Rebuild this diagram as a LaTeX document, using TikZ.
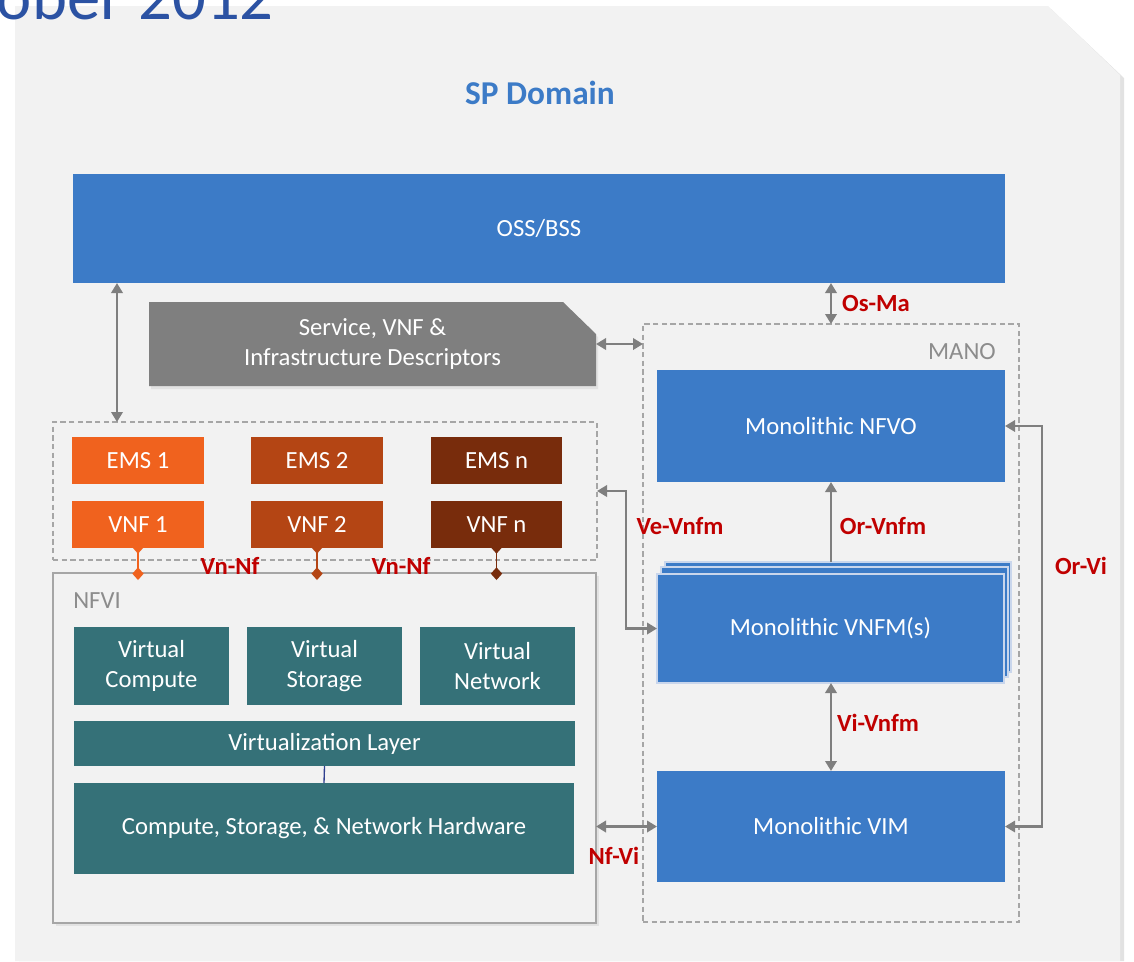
\documentclass[tikz,border=0pt]{standalone}
\usepackage{fontspec}
\setmainfont{Carlito}
\usetikzlibrary{arrows.meta,calc}
\definecolor{bgc}{HTML}{F2F2F2}
\definecolor{shc}{HTML}{E2E2E2}
\definecolor{mblue}{HTML}{3C7BC7}
\definecolor{spblue}{HTML}{3C7BC7}
\definecolor{tblue}{HTML}{2B52A3}
\definecolor{dgray}{HTML}{7F7F7F}
\definecolor{lgray}{HTML}{A6A6A6}
\definecolor{lred}{HTML}{C00000}
\definecolor{teal}{HTML}{357178}
\definecolor{orA}{HTML}{F0621E}
\definecolor{orB}{HTML}{B44514}
\definecolor{orC}{HTML}{782C0C}
\definecolor{stackb}{HTML}{C9D6EC}
\definecolor{vline}{HTML}{2F3F8F}
\pgfdeclarelayer{canvas}
\pgfdeclarelayer{front}
\pgfsetlayers{canvas,main,front}
\newcommand\mybox[7]{\node[#6, minimum width={(#4-#2)*0.75pt}, minimum height={(#5-#3)*0.75pt}] (#1) at ({(#2+#4)/2},{(#3+#5)/2}) {#7};}
\tikzset{
  box/.style={inner sep=0pt, outer sep=0pt, text=white, align=center, font=\fontsize{18.5}{22.5}\selectfont},
  bluebox/.style={box, fill=mblue},
  tealbox/.style={box, fill=teal},
  stackbox/.style={box, fill=mblue, draw=stackb, line width=1.1pt},
  dashbox/.style={inner sep=0pt, outer sep=0pt, draw=lgray, line width=1.1pt, dash pattern=on 4pt off 2.5pt},
  solidbox/.style={inner sep=0pt, outer sep=0pt, draw=lgray, line width=1.5pt},
  plainbox/.style={box},
  lbl/.style={text=lred, font=\bfseries\fontsize{18.5}{20}\selectfont, inner sep=0pt},
  glbl/.style={text=dgray!90, font=\fontsize{18.5}{20}\selectfont, inner sep=0pt},
  gline/.style={draw=dgray, line width=2.2pt},
  dbl/.style={gline, arrows={Triangle[length=7.5pt,width=8.5pt]-Triangle[length=7.5pt,width=8.5pt]}},
  sgl/.style={gline, arrows={-Triangle[length=7.5pt,width=8.5pt]}},
  thin dbl/.style={draw=dgray, line width=1.6pt, arrows={Triangle[length=7.5pt,width=8.5pt]-Triangle[length=7.5pt,width=8.5pt]}},
  vnnf/.style={line width=1.4pt, arrows={Diamond[length=9.5pt,width=8.5pt]-Diamond[length=9.5pt,width=8.5pt]}},
}
\begin{document}
\begin{tikzpicture}[x=0.75pt, y=-0.75pt]
\useasboundingbox (0,0) rectangle (1134,961);
\begin{pgfonlayer}{canvas}
\fill[shc] (19,9) -- (1051,9) -- (1124,78) -- (1124,961) -- (19,961) -- cycle;
\fill[bgc] (15,6) -- (1048,6) -- (1120,75) -- (1120,961) -- (15,961) -- cycle;
\end{pgfonlayer}
% title
\node[anchor=base east, text=tblue, inner sep=0pt, font=\fontsize{50}{50}\selectfont] (title) at (274,19) {ober 2012};
\node[text=spblue, inner sep=0pt, font=\bfseries\fontsize{25}{25}\selectfont] (sp) at (540,93) {SP Domain};
% OSS/BSS
\mybox{oss}{73}{174}{1005}{283}{bluebox}{OSS/BSS}
% descriptors
\fill[shc] (151,305) -- (565,305) -- (598,337) -- (598,389) -- (151,389) -- cycle;
\fill[dgray] (149,302) -- (563,302) -- (596,334) -- (596,386) -- (149,386) -- cycle;
\mybox{desc}{149}{302}{596}{386}{plainbox}{Service, VNF \&\\Infrastructure Descriptors}
% MANO
\mybox{mano}{643}{324}{1019}{922}{dashbox}{}
\node[glbl, anchor=east] (manolbl) at (996,352) {MANO};
\mybox{nfvo}{657}{370}{1005}{482}{bluebox}{Monolithic NFVO}
\mybox{vnfmC}{665}{562}{1011}{672}{stackbox}{}
\mybox{vnfmB}{661}{567}{1008}{677}{stackbox}{}
\mybox{vnfm}{657}{574}{1004}{683}{stackbox}{Monolithic VNFM(s)}
\mybox{vim}{657}{771}{1005}{882}{bluebox}{Monolithic VIM}
% VNF area
\mybox{vnfbox}{53}{422}{597}{560}{dashbox}{}
\fill[shc] (56,576) rectangle (599,926);
\mybox{nfvi}{53}{573}{596}{923}{solidbox, fill=bgc}{}
\node[glbl, anchor=west] (nfvilbl) at (73,601) {NFVI};
\begin{pgfonlayer}{front}
\mybox{ems1}{72}{437}{204}{484}{box, fill=orA}{EMS 1}
\mybox{ems2}{251}{437}{383}{484}{box, fill=orB}{EMS 2}
\mybox{emsn}{431}{437}{562}{484}{box, fill=orC}{EMS n}
\mybox{vnf1}{72}{501}{204}{548}{box, fill=orA}{VNF 1}
\mybox{vnf2}{251}{501}{383}{548}{box, fill=orB}{VNF 2}
\mybox{vnfn}{431}{501}{562}{548}{box, fill=orC}{VNF n}
\end{pgfonlayer}
\mybox{vc}{74}{627}{229}{705}{tealbox}{Virtual\\Compute}
\mybox{vs}{247}{627}{402}{705}{tealbox}{Virtual\\Storage}
\mybox{vn}{420}{627}{575}{705}{tealbox}{Virtual\\Network}
\mybox{vl}{74}{721}{575}{766}{tealbox}{Virtualization Layer}
\mybox{hw}{74}{783}{574}{874}{tealbox}{Compute, Storage, \& Network Hardware}
\draw[vline, line width=1pt] (vl.south) -- (hw.north);
% Vn-Nf connectors
\draw[vnnf, draw=orA, fill=orA] ($(vnf1.south)+(0,-7)$) -- ($(vnf1.south |- nfvi.north)+(0,7)$);
\draw[vnnf, draw=orB, fill=orB] ($(vnf2.south)+(0,-7)$) -- ($(vnf2.south |- nfvi.north)+(0,7)$);
\draw[vnnf, draw=orC, fill=orC] ($(vnfn.south)+(0,-7)$) -- ($(vnfn.south |- nfvi.north)+(0,7)$);
\node[lbl] (vnnf1) at (230,566) {Vn-Nf};
\node[lbl] (vnnf2) at (401,566) {Vn-Nf};
% connectors
\draw[dbl] ($(oss.south west)+(44,0)$) -- ($(vnfbox.north west)+(64,0)$);
\draw[dbl] (oss.south -| nfvo.north) -- (mano.north -| nfvo.north);
\node[lbl] (osma) at (876,303) {Os-Ma};
\draw[dbl] (desc.east) -- (desc.east -| mano.west);
\draw[sgl] (vnfmC.north -| nfvo.south) -- (nfvo.south);
\node[lbl] (orvnfm) at (883,526) {Or-Vnfm};
\draw[dbl] (vnfm.south -| vim.north) -- (vim.north);
\node[lbl] (vivnfm) at (878,723) {Vi-Vnfm};
\coordinate (vebend) at (626,491);
\draw[dbl] (vnfbox.east) -- (vebend) |- (vnfm.west);
\node[lbl] (vevnfm) at (680,526) {Ve-Vnfm};
\draw[dbl] (nfvi.east |- vim.west) -- (vim.west);
\node[lbl] (nfvilink) at (614,856) {Nf-Vi};
\coordinate (orvibend) at (1042,426);
\draw[thin dbl] (nfvo.east) -- (orvibend) |- (vim.east);
\node[lbl] (orvi) at (1081,566) {Or-Vi};
\end{tikzpicture}
\end{document}
